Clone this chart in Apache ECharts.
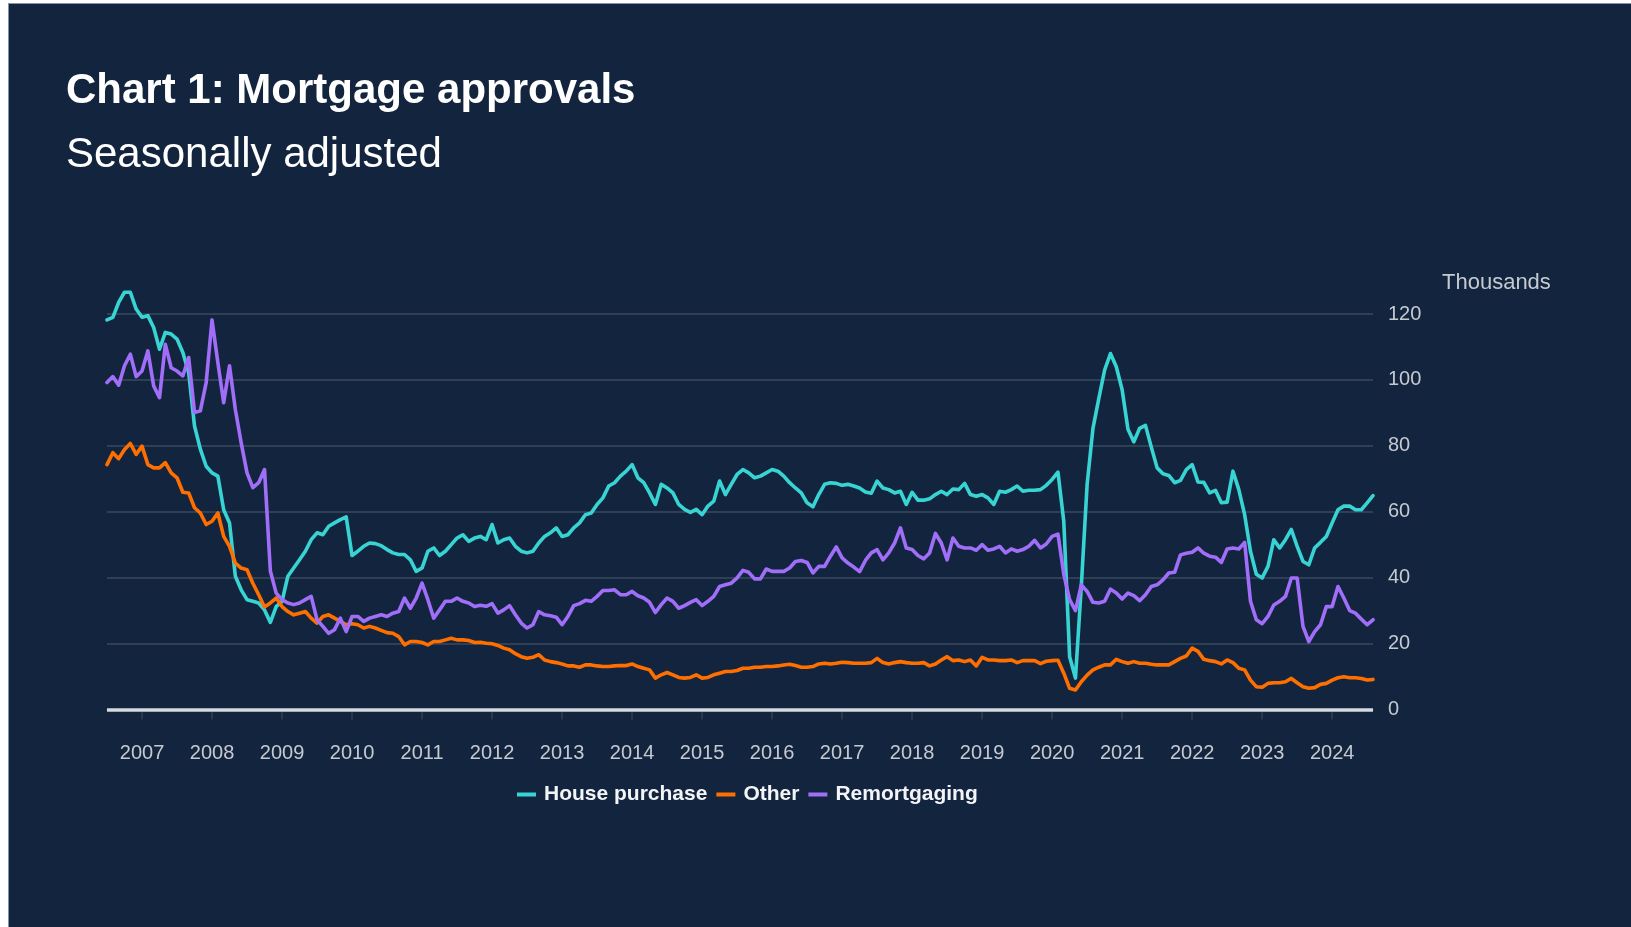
<!DOCTYPE html>
<html>
<head>
<meta charset="utf-8">
<title>Chart 1: Mortgage approvals</title>
<script src="https://cdn.jsdelivr.net/npm/echarts@6/dist/echarts.min.js"></script>
<style>
  html, body { margin: 0; padding: 0; background: #ffffff; width: 1631px; height: 927px; overflow: hidden; }
  #chart {
    position: absolute; left: 8px; top: 3px; width: 1622px; height: 923px;
    border-left: 1px solid #8592a1; border-top: 1px solid #8592a1;
  }
</style>
</head>
<body>
<div id="chart"></div>
<script>
// Monthly approvals, thousands, seasonally adjusted. First month: July 2006.
const startYear = 2006;
const startMonth = 7;

const housePurchase = [
  118.2, 119.0, 123.5, 126.6, 126.6, 121.5, 119.0, 119.5, 115.9, 109.3, 114.4, 113.9,
  112.4, 108.3, 102.2, 86.0, 79.0, 73.8, 71.8, 70.8, 60.6, 56.6, 40.4, 36.3,
  33.3, 32.8, 32.3, 30.2, 26.4, 31.2, 32.8, 40.4, 42.9, 45.4, 48.0, 51.5,
  53.6, 53.0, 55.6, 56.6, 57.6, 58.4, 46.7, 48.0, 49.5, 50.5, 50.3, 49.7,
  48.5, 47.5, 47.0, 47.0, 45.4, 41.9, 42.9, 48.0, 49.0, 46.7, 48.0, 50.0,
  52.0, 53.0, 51.0, 52.0, 52.5, 51.5, 56.1, 50.5, 51.5, 52.0, 49.5, 48.0,
  47.5, 48.0, 50.5, 52.5, 53.6, 55.1, 52.5, 53.0, 55.1, 56.6, 59.1, 59.6,
  62.2, 64.2, 67.8, 68.8, 70.8, 72.3, 74.3, 70.3, 68.8, 65.7, 62.2, 68.3,
  67.2, 65.7, 62.2, 60.7, 59.8, 60.7, 59.1, 61.7, 63.2, 69.3, 65.2, 68.3,
  71.3, 72.8, 71.8, 70.3, 70.8, 71.8, 72.8, 72.3, 70.8, 68.8, 67.2, 65.7,
  62.7, 61.5, 65.2, 68.3, 68.8, 68.6, 68.0, 68.3, 67.8, 67.2, 66.0, 65.6,
  69.3, 67.2, 66.7, 65.7, 66.2, 62.2, 65.9, 63.5, 63.5, 63.9, 65.2, 66.2,
  65.2, 66.9, 66.7, 68.6, 65.2, 64.7, 65.2, 64.2, 62.2, 66.2, 65.9, 66.7,
  67.8, 66.2, 66.5, 66.5, 66.7, 68.0, 69.8, 72.0, 57.0, 16.0, 9.5, 37.3,
  68.3, 85.3, 94.3, 103.0, 108.0, 104.0, 97.0, 85.0, 81.2, 85.3, 86.2, 79.6,
  73.3, 71.5, 71.0, 68.8, 69.5, 72.8, 74.3, 69.0, 68.9, 65.7, 66.5, 62.7,
  62.9, 72.3, 66.7, 59.1, 48.0, 41.0, 39.9, 43.4, 51.5, 49.0, 51.5, 54.6,
  49.5, 44.9, 43.9, 49.0, 50.7, 52.5, 56.6, 60.6, 61.7, 61.7, 60.6, 60.6,
  62.7, 64.9
];

const other = [
  74.3, 77.9, 76.1, 78.9, 80.7, 77.4, 79.9, 74.3, 73.3, 73.3, 74.9, 71.8,
  70.3, 65.9, 65.7, 61.2, 59.6, 56.1, 57.1, 59.6, 52.5, 49.5, 44.4, 42.9,
  42.4, 38.3, 34.8, 31.1, 32.3, 33.8, 31.2, 29.7, 28.7, 29.2, 29.7, 27.7,
  26.2, 28.2, 28.7, 27.7, 26.7, 25.7, 26.0, 25.7, 24.7, 25.2, 24.7, 24.0,
  23.3, 23.1, 22.1, 19.6, 20.6, 20.6, 20.3, 19.6, 20.6, 20.6, 21.1, 21.6,
  21.1, 21.1, 20.9, 20.3, 20.4, 20.1, 19.9, 19.4, 18.6, 18.1, 16.9, 16.0,
  15.5, 15.8, 16.6, 15.0, 14.5, 14.2, 13.8, 13.2, 13.2, 12.8, 13.5, 13.5,
  13.2, 13.0, 13.0, 13.2, 13.3, 13.3, 13.8, 13.0, 12.5, 12.0, 9.5, 10.5,
  11.2, 10.5, 9.7, 9.5, 9.7, 10.5, 9.5, 9.7, 10.5, 11.0, 11.5, 11.5,
  11.8, 12.5, 12.5, 12.8, 12.8, 13.0, 13.0, 13.2, 13.5, 13.7, 13.3, 12.8,
  12.8, 13.0, 13.8, 14.0, 13.8, 14.0, 14.3, 14.2, 14.0, 14.0, 14.0, 14.2,
  15.5, 14.2, 13.8, 14.2, 14.5, 14.2, 14.0, 14.0, 14.2, 13.2, 13.8, 15.0,
  16.0, 14.8, 15.0, 14.5, 15.0, 13.2, 15.8, 15.0, 15.0, 14.8, 14.8, 15.0,
  14.2, 14.8, 14.8, 14.8, 13.9, 14.6, 14.8, 14.9, 11.0, 6.4, 5.9, 8.4,
  10.4, 12.0, 12.8, 13.5, 13.5, 15.2, 14.5, 14.0, 14.5, 14.0, 14.0, 13.7,
  13.5, 13.5, 13.5, 14.5, 15.5, 16.2, 18.6, 17.6, 15.2, 14.8, 14.5, 13.8,
  15.0, 14.2, 12.5, 12.0, 8.9, 6.9, 6.7, 7.9, 8.1, 8.1, 8.4, 9.4,
  8.1, 6.9, 6.4, 6.6, 7.6, 7.9, 8.9, 9.6, 9.9, 9.6, 9.6, 9.4,
  8.9, 9.1
];

const remortgaging = [
  99.2, 101.0, 98.4, 104.3, 107.8, 101.0, 102.7, 108.8, 98.2, 94.6, 110.8, 103.7,
  102.7, 101.2, 106.8, 90.1, 90.6, 99.2, 118.2, 105.3, 93.1, 104.3, 91.0, 80.9,
  71.8, 67.3, 68.8, 72.8, 42.0, 35.3, 33.3, 32.3, 31.8, 32.3, 33.3, 34.3,
  27.2, 25.2, 23.1, 24.2, 27.7, 23.6, 28.2, 28.2, 26.7, 27.7, 28.2, 28.7,
  28.2, 29.2, 29.7, 33.8, 30.7, 33.8, 38.3, 33.3, 27.7, 30.2, 32.8, 32.8,
  33.8, 32.8, 32.3, 31.2, 31.6, 31.3, 32.1, 29.2, 30.2, 31.5, 28.7, 26.2,
  24.7, 25.7, 29.7, 28.7, 28.4, 28.0, 25.7, 28.2, 31.5, 32.1, 33.1, 32.8,
  34.3, 36.1, 36.1, 36.3, 34.8, 34.8, 35.8, 34.5, 33.8, 32.5, 29.4, 31.8,
  33.8, 32.8, 30.7, 31.5, 32.5, 33.3, 31.5, 32.8, 34.3, 37.3, 37.8, 38.3,
  39.9, 42.2, 41.6, 39.6, 39.6, 42.6, 41.9, 41.9, 41.9, 42.9, 44.9, 45.2,
  44.6, 41.4, 43.4, 43.4, 46.5, 49.3, 46.0, 44.4, 43.2, 41.8, 45.2, 47.5,
  48.5, 45.4, 47.5, 50.5, 55.1, 49.0, 48.5, 46.7, 45.7, 47.5, 53.4, 50.5,
  45.4, 52.0, 49.5, 49.0, 49.0, 48.3, 50.0, 48.3, 48.7, 49.5, 47.5, 48.7,
  48.0, 48.5, 49.5, 51.3, 49.0, 50.2, 52.5, 53.2, 41.0, 33.3, 30.0, 37.8,
  35.8, 32.5, 32.3, 32.8, 36.5, 35.3, 33.5, 35.3, 34.5, 33.0, 34.8, 37.3,
  37.8, 39.3, 41.4, 41.6, 46.9, 47.4, 47.7, 49.0, 47.4, 46.5, 46.2, 44.6,
  48.7, 49.0, 48.7, 50.7, 32.8, 27.2, 26.0, 28.2, 31.7, 32.8, 34.3, 39.9,
  39.9, 25.2, 20.6, 23.6, 25.7, 31.2, 31.2, 37.3, 33.8, 30.0, 29.2, 27.4,
  25.7, 27.2
];

const yTicks = { min: 0, max: 120, step: 20 };

// Month categories, "YYYY-MM"
const months = [];
for (let k = 0; k < housePurchase.length; k++) {
  const m0 = startMonth - 1 + k;
  const y = startYear + Math.floor(m0 / 12);
  const m = (m0 % 12) + 1;
  months.push(y + '-' + String(m).padStart(2, '0'));
}
const isJanuary = (idx) => months[idx].slice(5) === '01';

const FONT = '"Liberation Sans", Arial, Helvetica, sans-serif';
const BG = '#13253e';
const GRID = '#3a4a5f';
const LABEL = '#c5cad1';

const chart = echarts.init(document.getElementById('chart'), null, { renderer: 'canvas' });

const lineSeries = (name, data, color) => ({
  name: name,
  type: 'line',
  data: data,
  showSymbol: false,
  symbol: 'none',
  clip: false,
  lineStyle: { color: color, width: 3.6, cap: 'round', join: 'round' },
  itemStyle: { color: color },
  emphasis: { disabled: true }
});

const option = {
  animation: false,
  backgroundColor: BG,
  textStyle: { fontFamily: FONT },
  graphic: [
    {
      type: 'text', left: 57, top: 66,
      style: { text: 'Chart 1: Mortgage approvals', fill: '#ffffff', font: 'bold 42px ' + FONT }
    },
    {
      type: 'text', left: 57, top: 130,
      style: { text: 'Seasonally adjusted', fill: '#ffffff', font: '42px ' + FONT }
    },
    {
      type: 'text', left: 1433, top: 268,
      style: { text: 'Thousands', fill: LABEL, font: '22px ' + FONT }
    }
  ],
  grid: { left: 98, right: 258, top: 310, bottom: 217.6, containLabel: false },
  legend: {
    left: 503, top: 775,
    icon: 'rect', itemWidth: 19, itemHeight: 4, itemGap: 9,
    selectedMode: false,
    textStyle: { color: '#f2f4f7', fontSize: 21, fontWeight: 'bold', fontFamily: FONT, padding: [0, 0, 0, 3] },
    data: ['House purchase', 'Other', 'Remortgaging']
  },
  xAxis: {
    type: 'category',
    data: months,
    boundaryGap: false,
    offset: 20,
    axisLine: { show: true, lineStyle: { color: '#2f4058', width: 1.5 } },
    axisTick: { show: true, interval: (i) => isJanuary(i), length: 10, lineStyle: { color: '#2f4058', width: 1.5 } },
    axisLabel: {
      interval: (i) => isJanuary(i),
      formatter: (v) => v.slice(0, 4),
      color: LABEL, fontSize: 20, fontFamily: FONT, margin: 14
    },
    splitLine: { show: false }
  },
  yAxis: {
    type: 'value',
    position: 'right',
    min: yTicks.min, max: yTicks.max, interval: yTicks.step,
    axisLine: { show: false },
    axisTick: { show: false },
    axisLabel: { color: LABEL, fontSize: 20, fontFamily: FONT, margin: 15 },
    splitLine: { show: true, lineStyle: { color: GRID, width: 1.5 } }
  },
  series: [
    Object.assign(lineSeries('House purchase', housePurchase, '#38d4d4'), {
      markLine: {
        silent: true, symbol: 'none', label: { show: false },
        lineStyle: { color: '#d6d9dd', width: 3.5, type: 'solid' },
        data: [{ yAxis: 0 }]
      }
    }),
    lineSeries('Other', other, '#ff6f00'),
    lineSeries('Remortgaging', remortgaging, '#a06ef8')
  ]
};

chart.setOption(option);
</script>
</body>
</html>
